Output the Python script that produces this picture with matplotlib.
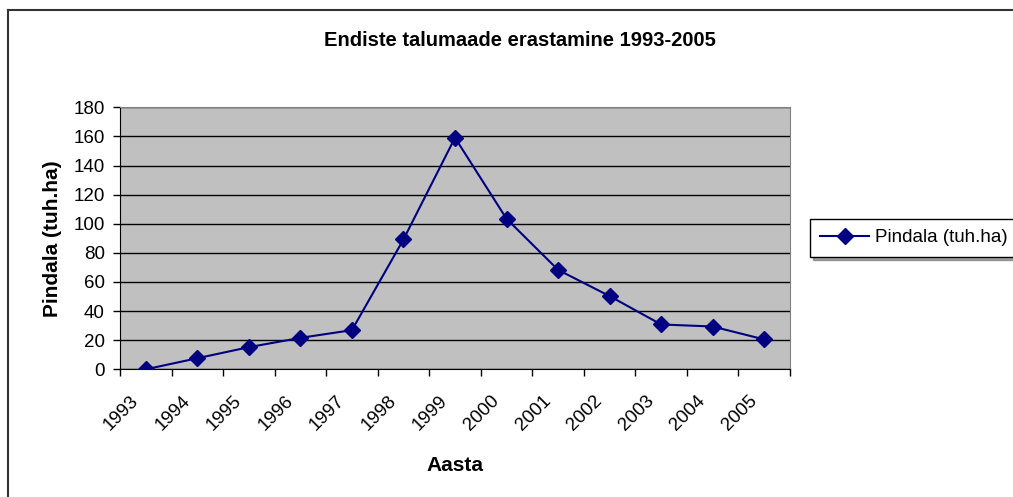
import matplotlib.pyplot as plt
from matplotlib.lines import Line2D
from matplotlib.transforms import ScaledTranslation
import numpy as np

years = ['1993', '1994', '1995', '1996', '1997', '1998', '1999',
         '2000', '2001', '2002', '2003', '2004', '2005']
area = [0, 7.6, 15.2, 21.6, 26.9, 89.2, 159.1, 103.4, 68.3, 50.3, 30.8, 29.4, 20.5]
yticks = [0, 20, 40, 60, 80, 100, 120, 140, 160, 180]

plt.rcParams['font.family'] = ['Liberation Sans', 'DejaVu Sans']

fig = plt.figure(figsize=(10.13, 4.97), dpi=100, facecolor='white')
ax = fig.add_axes([120 / 1013, 1 - 369.3 / 497, 670 / 1013, 262 / 497])
ax.set_facecolor('#C0C0C0')

x = np.arange(len(years))
ax.plot(x, area, color='#000080', lw=1.5, marker='D', ms=8,
        markerfacecolor='#000080', markeredgecolor='#000080',
        label='Pindala (tuh.ha)', zorder=3)

ax.set_xlim(-0.5, len(years) - 0.5)
ax.set_ylim(0, 180)
ax.set_yticks(yticks)
ax.yaxis.grid(True, color='black', lw=1)
ax.set_axisbelow(True)

ax.set_xticks(x)
ax.set_xticks(np.arange(-0.5, len(years)), minor=True)
ax.tick_params(axis='x', which='major', length=0, pad=12)
ax.tick_params(axis='x', which='minor', length=5, width=1, color='black')
ax.tick_params(axis='y', length=5, width=1, labelsize=13.5, pad=6)
ax.set_xticklabels(years, rotation=45, ha='right', va='top',
                   rotation_mode='anchor', fontsize=13.5)
shift = ScaledTranslation(-0.16, -0.06, fig.dpi_scale_trans)
for lab in ax.get_xticklabels():
    lab.set_transform(lab.get_transform() + shift)

for s in ['top', 'right']:
    ax.spines[s].set_color('#808080')
for s in ['left', 'bottom']:
    ax.spines[s].set_color('black')

ax.set_ylabel('Pindala (tuh.ha)', fontsize=15, fontweight='bold', labelpad=8)
ax.set_xlabel('Aasta', fontsize=15, fontweight='bold', labelpad=16)
fig.text(520 / 1013, 1 - 40 / 497, 'Endiste talumaade erastamine 1993-2005',
         ha='center', va='center', fontsize=14.5, fontweight='bold')

leg = ax.legend(loc='upper left', bbox_to_anchor=(810 / 1013, 1 - 219 / 497),
                bbox_transform=fig.transFigure, fontsize=13.5, frameon=True,
                fancybox=False, shadow=True, handlelength=2.6, handletextpad=0.3,
                borderpad=0.55, borderaxespad=0)
leg.get_frame().set_edgecolor('black')
leg.get_frame().set_linewidth(1)

# chart area border (right and bottom run off the image)
fig.add_artist(Line2D([8 / 1013, 1.0], [1 - 10 / 497] * 2, color='#333333', lw=1.5))
fig.add_artist(Line2D([8 / 1013] * 2, [1 - 10 / 497, 0], color='#333333', lw=1.5))

fig.savefig('out.png', dpi=100)
